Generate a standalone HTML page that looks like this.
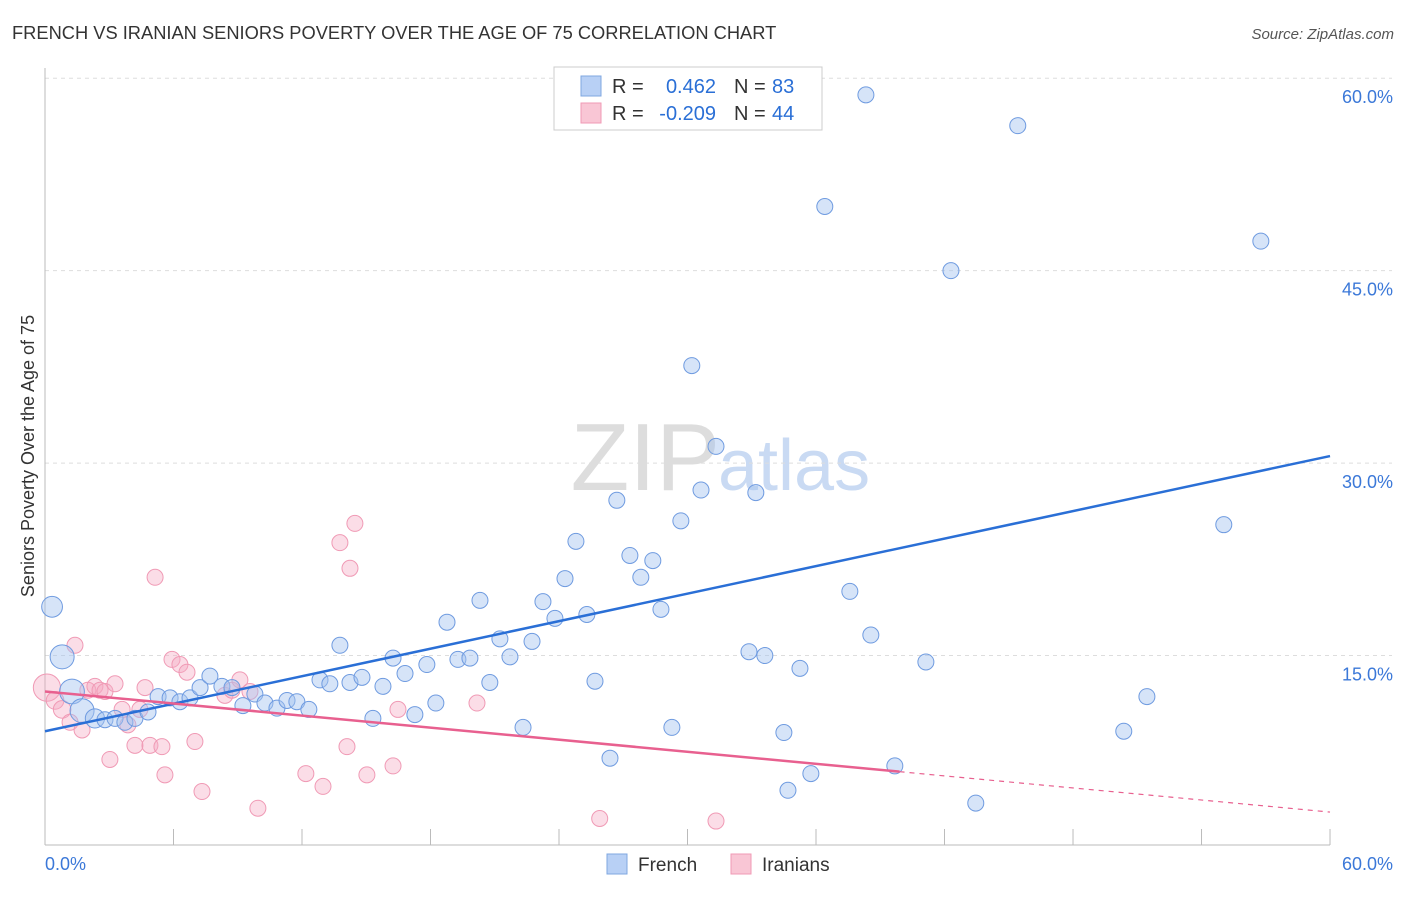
<!DOCTYPE html>
<html><head><meta charset="utf-8"><style>
body{margin:0;background:#fff;font-family:"Liberation Sans",sans-serif}
svg text{font-family:"Liberation Sans",sans-serif}
</style></head><body>
<svg id="c" width="1406" height="892" xmlns="http://www.w3.org/2000/svg">
<text x="12" y="39" font-size="18.3" fill="#333">FRENCH VS IRANIAN SENIORS POVERTY OVER THE AGE OF 75 CORRELATION CHART</text>
<text x="1394" y="39" font-size="15" fill="#555" font-style="italic" text-anchor="end">Source: ZipAtlas.com</text>
<text x="720" y="490" font-size="96" fill="#ddd" text-anchor="end" font-family="Liberation Serif">ZIP</text>
<text x="718" y="490" font-size="72" fill="#c9daf3">atlas</text>
<text transform="translate(34,456) rotate(-90)" font-size="18" fill="#333" text-anchor="middle">Seniors Poverty Over the Age of 75</text>
<g id="grid"></g><g id="pts"></g><g id="lines"></g>
<g>
<rect x="554" y="67" width="268" height="63" fill="#fff" stroke="#ccc"/>
<rect x="581" y="76" width="20" height="20" fill="#b8d0f5" stroke="#7fa7e0"/>
<rect x="581" y="103" width="20" height="20" fill="#f9c6d5" stroke="#f09ab5"/>
<text x="612" y="93" font-size="20" fill="#333">R =</text>
<text x="716" y="93" font-size="20" fill="#2a6fd6" text-anchor="end">0.462</text>
<text x="734" y="93" font-size="20" fill="#333">N =</text>
<text x="772" y="93" font-size="20" fill="#2a6fd6">83</text>
<text x="612" y="120" font-size="20" fill="#333">R =</text>
<text x="716" y="120" font-size="20" fill="#2a6fd6" text-anchor="end">-0.209</text>
<text x="734" y="120" font-size="20" fill="#333">N =</text>
<text x="772" y="120" font-size="20" fill="#2a6fd6">44</text>
</g>
<g>
<rect x="607" y="854" width="20" height="20" fill="#b8d0f5" stroke="#7fa7e0"/>
<text x="638" y="871" font-size="19" fill="#333">French</text>
<rect x="731" y="854" width="20" height="20" fill="#f9c6d5" stroke="#f09ab5"/>
<text x="762" y="871" font-size="19" fill="#333">Iranians</text>
</g>
</svg>
<script>
const frX=[0.33,0.8,1.26,1.73,2.33,2.8,3.27,3.73,4.2,4.81,5.28,5.84,6.3,6.77,7.24,7.7,8.26,8.73,9.24,9.8,10.27,10.83,11.3,11.76,12.32,12.84,13.3,13.77,14.24,14.8,15.31,15.78,16.25,16.81,17.27,17.83,18.25,18.77,19.28,19.84,20.31,20.77,21.24,21.71,22.32,22.74,23.25,23.81,24.28,24.79,25.3,25.68,26.38,26.7,27.31,27.82,28.38,28.76,29.27,29.69,30.2,30.63,31.33,32.87,33.19,33.61,34.5,34.69,35.25,35.76,36.41,37.58,38.33,38.56,39.68,41.13,42.3,43.46,45.42,50.37,51.45,55.04,56.77];
const frY=[18.8,14.9,12.2,10.7,10.1,10.0,10.1,9.8,10.1,10.6,11.8,11.7,11.4,11.7,12.5,13.4,12.6,12.5,11.1,12.0,11.3,10.9,11.5,11.4,10.8,13.1,12.8,15.8,12.9,13.3,10.1,12.6,14.8,13.6,10.4,14.3,11.3,17.6,14.7,14.8,19.3,12.9,16.3,14.9,9.4,16.1,19.2,17.9,21.0,23.9,18.2,13.0,7.0,27.1,22.8,21.1,22.4,18.6,9.4,25.5,37.6,27.9,31.3,15.3,27.7,15.0,9.0,4.5,14.0,5.8,50.0,20.0,58.7,16.6,6.4,14.5,45.0,3.5,56.3,9.1,11.8,25.2,47.3];
const frW=[1.3,1.5,1.55,1.5,1.2];
const irX=[0.09,0.47,0.8,1.17,1.4,1.73,2.0,2.33,2.57,2.8,3.03,3.27,3.6,3.87,4.2,4.43,4.67,4.9,5.14,5.46,5.6,5.93,6.3,6.63,7.0,7.33,8.4,8.73,9.1,9.57,9.94,12.18,12.98,13.77,14.1,14.24,14.47,15.03,16.25,16.48,20.17,25.9,31.33];
const irY=[12.5,11.5,10.8,9.8,15.8,9.2,12.3,12.6,12.3,12.2,6.9,12.8,10.8,9.6,8.0,10.8,12.5,8.0,21.1,7.9,5.7,14.7,14.3,13.7,8.3,4.4,11.9,12.3,13.1,12.2,3.1,5.8,4.8,23.8,7.9,21.8,25.3,5.7,6.4,10.8,11.3,2.3,2.1];
const irW=[1.7,1.1,1.1];
const yTicks=[15,30,45,60];
const xTickLabels=["0.0%","60.0%"];
const frLine=[9.1,30.55];
const irLine=[12.2,2.8];
const irSolidEnd=39.9;
const NS="http://www.w3.org/2000/svg";
const X=v=>45+v*21.417, Y=v=>848-v*12.83;
function mk(t,a,p){const e=document.createElementNS(NS,t);for(const k in a)e.setAttribute(k,a[k]);p.appendChild(e);return e;}
const g=document.getElementById('grid');
yTicks.forEach(t=>{
 const l=mk('line',{x1:45,x2:1392,y1:Y(t),y2:Y(t),stroke:'#ddd','stroke-dasharray':'4,4'},g);
 
 
 const tx=mk('text',{x:1393,y:Y(t)+25,'font-size':18,fill:'#3b78d8','text-anchor':'end'},g);tx.textContent=t.toFixed(1)+'%';
 
 
});
const ax=mk('line',{x1:45,x2:45,y1:68,y2:845,stroke:'#bbb'},g);


const bx=mk('line',{x1:45,x2:1330,y1:845,y2:845,stroke:'#bbb'},g);


for(let i=0;i<=10;i++){const v=i*6;const t=mk('line',{x1:X(v),x2:X(v),y1:829,y2:845,stroke:'#bbb'},g);
 
 }
[[0,45,'start'],[60,1393,'end']].forEach((d,i)=>{const t=mk('text',{x:d[1],y:870,'font-size':18,fill:'#3b78d8','text-anchor':d[2]},g);t.textContent=xTickLabels[i];
 
 });
const p=document.getElementById('pts');
irX.forEach((x,i)=>{const c=mk('circle',{cx:X(x),cy:Y(irY[i]),r:8*(irW[i]||1),fill:'rgba(245,170,195,0.4)',stroke:'#f09ab5','stroke-width':1},p);
 
 });
frX.forEach((x,i)=>{const c=mk('circle',{cx:X(x),cy:Y(frY[i]),r:8*(frW[i]||1),fill:'rgba(165,195,240,0.45)',stroke:'#6f9be0','stroke-width':1},p);
 
 });
const L=document.getElementById('lines');
const fl=mk('line',{x1:X(0),y1:Y(frLine[0]),x2:X(60),y2:Y(frLine[1]),stroke:'#2a6fd6','stroke-width':2.5},L);


const ym=irLine[0]+(irLine[1]-irLine[0])*irSolidEnd/60;
const il=mk('line',{x1:X(0),y1:Y(irLine[0]),x2:X(irSolidEnd),y2:Y(ym),stroke:'#e8608f','stroke-width':2.5},L);


const id=mk('line',{x1:X(irSolidEnd),y1:Y(ym),x2:X(60),y2:Y(irLine[1]),stroke:'#e8608f','stroke-width':1.2,'stroke-dasharray':'5,5'},L);


</script>
</body></html>
